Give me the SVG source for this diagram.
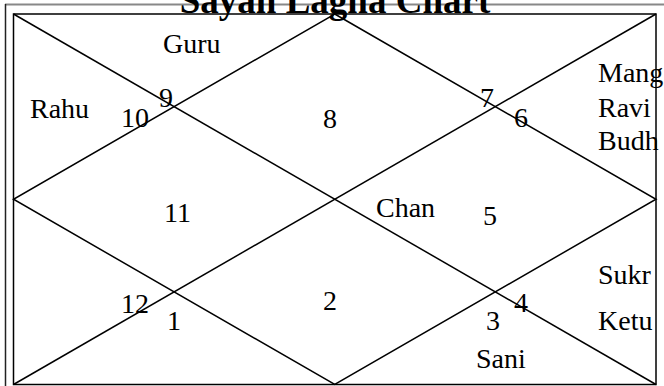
<svg xmlns="http://www.w3.org/2000/svg" width="664" height="386" viewBox="0 0 664 386">
<style>
.t{font-family:"Liberation Serif","Times New Roman",serif;font-size:28px;fill:#000}
.title{font-family:"Liberation Serif","Times New Roman",serif;font-size:37px;font-weight:bold;fill:#000}
.ln{stroke:#000;stroke-width:1.5;fill:none}
</style>
<rect x="0" y="0" width="664" height="386" fill="#fff"/>
<g id="frame">
<line x1="5" y1="4.5" x2="664" y2="4.5" stroke="#888" stroke-width="2"/>
<line x1="5.5" y1="4" x2="5.5" y2="386" stroke="#222" stroke-width="1.5"/>
</g>
<text id="title" class="title" x="335" y="13" text-anchor="middle">Sayan Lagna Chart</text>
<g id="connectors">
<rect x="13.5" y="14" width="642.5" height="370.5" fill="#fff" class="ln"/>
<line class="ln" x1="13.5" y1="14" x2="656" y2="384.5"/>
<line class="ln" x1="656" y1="14" x2="13.5" y2="384.5"/>
<polygon class="ln" points="334.75,14 656,199.25 334.75,384.5 13.5,199.25"/>
</g>
<g id="house1"><text class="t" x="167" y="330">1</text></g>
<g id="house2"><text class="t" x="323" y="310">2</text></g>
<g id="house3"><text class="t" x="486" y="330">3</text><text class="t" x="476" y="368">Sani</text></g>
<g id="house4"><text class="t" x="514" y="312">4</text><text class="t" x="598" y="284">Sukr</text><text class="t" x="598" y="330">Ketu</text></g>
<g id="house5"><text class="t" x="483" y="225">5</text></g>
<g id="house1c"><text class="t" x="376" y="217">Chan</text></g>
<g id="house6"><text class="t" x="514" y="127">6</text><text class="t" x="598" y="82">Mang</text><text class="t" x="598" y="117">Ravi</text><text class="t" x="598" y="150">Budh</text></g>
<g id="house7"><text class="t" x="480" y="107">7</text></g>
<g id="house8"><text class="t" x="323" y="128">8</text></g>
<g id="house9"><text class="t" x="159" y="107">9</text><text class="t" x="163" y="53">Guru</text></g>
<g id="house10"><text class="t" x="121" y="127">10</text><text class="t" x="30" y="118">Rahu</text></g>
<g id="house11"><text class="t" x="164" y="222">11</text></g>
<g id="house12"><text class="t" x="121" y="313">12</text></g>
</svg>
